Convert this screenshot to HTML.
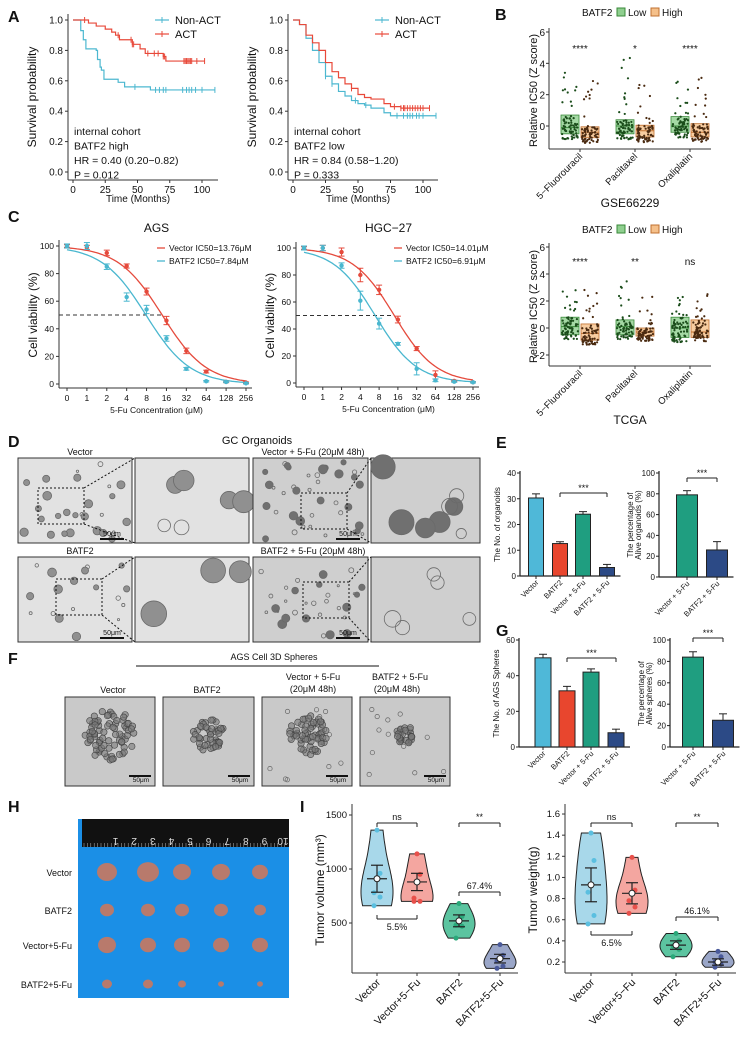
<!DOCTYPE html>
<html><head><meta charset="utf-8"><style>
html,body{margin:0;padding:0;background:#fff;width:749px;height:1041px;overflow:hidden}
svg text{font-family:"Liberation Sans",sans-serif}
</style></head><body>
<svg id="fig" width="749" height="1041" viewBox="0 0 749 1041" xmlns="http://www.w3.org/2000/svg"></svg>
<script>
// ---------- DATA ----------
// A: Kaplan-Meier
const kmLNonT=[0,6,8,10,18,19,21,22,24,35,40,60,110];
const kmLNonS=[1,.93,.87,.81,.80,.74,.69,.67,.61,.59,.56,.54,.54];
const kmLActT=[0,10,12,18,25,30,33,36,46,52,56,70,72,102];
const kmLActS=[1,1,.98,.96,.94,.92,.90,.87,.84,.81,.78,.76,.73,.73];
const kmLNonC=[48,64,67,70,72,85,88,90,92,95,100,110];
const kmLActC=[9,35,45,46,47,58,63,66,70,71,86,87,88,89,90,91,92,96,102];
const kmRNonT=[0,5,10,15,20,25,30,35,40,45,50,55,60,70,75,110];
const kmRNonS=[1,.97,.88,.80,.72,.63,.58,.53,.50,.47,.45,.44,.42,.39,.37,.37];
const kmRActT=[0,5,10,15,20,25,30,35,40,45,50,55,60,70,75,83,105];
const kmRActS=[1,.97,.90,.85,.80,.72,.66,.62,.58,.55,.51,.49,.48,.45,.43,.42,.42];
const kmRNonC=[25,30,48,56,80,85,88,90,92,95,97,100,110];
const kmRActC=[45,78,83,85,86,88,90,92,94,96,98,100,105];
const kmXTicks=[0,25,50,75,100];
const kmYTicks=[0,0.2,0.4,0.6,0.8,1.0];
// B: IC50 boxes (q1, median, q3)
const drugs=["5\u2212Fluorouracil","Paclitaxel","Oxaliplatin"];
const gseLow=[[-0.5,-0.1,0.7],[-0.5,0,0.4],[-0.4,0,0.6]];
const gseHigh=[[-0.75,-0.4,-0.05],[-0.7,-0.3,0.05],[-0.7,-0.4,0.15]];
const gseMax=[[4.0,3.2],[4.5,2.7],[3.0,3.2]];
const gseSig=["****","*","****"];
const tcgaLow=[[-0.5,0.1,0.8],[-0.5,0.1,0.6],[-0.7,0,0.8]];
const tcgaHigh=[[-0.9,-0.4,0.3],[-0.6,-0.3,0.0],[-0.7,-0.3,0.6]];
const tcgaMax=[[3.1,3.4],[3.6,2.8],[2.3,2.9]];
const tcgaSig=["****","**","ns"];
const bTicksTop=[0,2,4,6];
const bTicksBot=[-2,0,2,4,6];
// C: viability
const concLabels=["0","1","2","4","8","16","32","64","128","256"];
const agsVec=[100,99,95,85.5,67,46,24,9,1.5,1];
const agsVecErr=[1,1.5,2,1.5,2.5,3,2,1,0.5,0.5];
const agsBat=[100,100,85,63,54,33,11,2,1.5,0.5];
const agsBatErr=[1.5,2.5,2,3,3,2,1,0.5,0.5,0.5];
const hgcVec=[100,100,97,80,69,47,25.5,6,1.5,0.5];
const hgcVecErr=[1,2,3,5,3.5,2.5,1.5,3,0.5,0.5];
const hgcBat=[100,100,87,61,44,29,10.5,2,1,0.5];
const hgcBatErr=[1.5,2,2,7,4,1,4.5,1,0.5,0.5];
const ic50=[13.76,7.84,14.01,6.91];
const cYTicks=[0,20,40,60,80,100];
// E/G bars
const eLabels=["Vector","BATF2","Vector + 5-Fu","BATF2 + 5-Fu"];
const eVals=[30.3,12.6,24,3.3]; const eErr=[1.6,0.7,1,1.2];
const e2Labels=["Vector + 5-Fu","BATF2 + 5-Fu"];
const e2Vals=[79,26]; const e2Err=[4,8];
const gVals=[50,31.5,42,8]; const gErr=[2,2.5,1.8,2];
const g2Vals=[84,25]; const g2Err=[5,6];
// I violins
const vGroups=["Vector","Vector+5\u2212Fu","BATF2","BATF2+5\u2212Fu"];
const volPts=[[1360,960,780,740,660],[1140,950,730,700,700],[680,560,480,470,360],[300,200,150,100,80]];
const volMean=[910,880,520,170]; const volSE=[125,80,55,40];
const wPts=[[1.42,1.16,0.86,0.64,0.56],[1.19,0.88,0.78,0.72,0.66],[0.47,0.40,0.35,0.32,0.25],[0.30,0.25,0.20,0.18,0.15]];
const wMean=[0.93,0.85,0.36,0.20]; const wSE=[0.16,0.10,0.04,0.03];
const volTicks=[500,1000,1500];
const wTicks=[0.2,0.4,0.6,0.8,1.0,1.2,1.4,1.6];

// ---------- HELPERS ----------
const NS="http://www.w3.org/2000/svg";
const svg=document.getElementById('fig');
function mk(tag,attrs,name,parent){
  const el=document.createElementNS(NS,tag);
  for(const k in attrs) el.setAttribute(k,attrs[k]);
  
  
  (parent||svg).appendChild(el);
  return el;
}
function tx(x,y,s,size,name,opt){
  opt=opt||{};
  const a={x:x,y:y,'font-size':size,fill:opt.fill||'#111'};
  if(opt.anchor)a['text-anchor']=opt.anchor;
  if(opt.bold)a['font-weight']='bold';
  if(opt.rot!==undefined)a.transform='rotate('+opt.rot+' '+x+' '+y+')';
  const t=mk('text',a,name,opt.parent);
  t.textContent=s;return t;
}
function ln(x1,y1,x2,y2,c,w,name,dash){
  const a={x1:x1,y1:y1,x2:x2,y2:y2,stroke:c,'stroke-width':w};
  if(dash)a['stroke-dasharray']=dash;
  return mk('line',a,name);
}
function hash(n){const s=Math.sin(n*12.9898+78.233)*43758.5453;return s-Math.floor(s);}

// panel letters
[["A",8,22],["B",495,20],["C",8,222],["D",8,447],["E",496,448],["F",8,664],["G",496,636],["H",8,812],["I",300,812]].forEach(p=>{
  tx(p[1],p[2],p[0],16,'panel-label-'+p[0].toLowerCase(),{bold:true});
});

// ---------- A ----------
function km(ox,x0,x100,title,nT,nS,aT,aS,nC,aC,l1,hr,p,key){
  const y1=20,y0=172,ax=ox-5,ab=180;
  const X=t=>x0+(x100-x0)*t/100, Y=s=>y0-(y0-y1)*s;
  ln(ax,14,ax,ab,'#333',1,'km-y-axis-'+key);
  ln(ax,ab,ax+150,ab,'#333',1,'km-x-axis-'+key);
  kmYTicks.forEach(v=>{ln(ax-3,Y(v),ax,Y(v),'#333',1,'km-y-tick');tx(ax-5,Y(v)+3.5,v.toFixed(1),10,'km-y-tick-label',{anchor:'end'});});
  kmXTicks.forEach(v=>{ln(X(v),ab,X(v),ab+3,'#333',1,'km-x-tick');tx(X(v),ab+13,String(v),10,'km-x-tick-label',{anchor:'middle'});});
  tx(ax+70,ab+22,'Time (Months)',10,'km-x-axis-title',{anchor:'middle'});
  tx(ax-32,97,'Survival probability',12,'km-y-axis-title',{anchor:'middle',rot:-90});
  function curve(T,S,C,col,nm){
    let d='M'+X(T[0])+' '+Y(S[0]);
    for(let i=1;i<T.length;i++){d+=' H'+X(T[i])+' V'+Y(S[i]);}
    mk('path',{d:d,fill:'none',stroke:col,'stroke-width':1.2},nm);
    C.forEach(t=>{let s=S[0];for(let i=0;i<T.length;i++)if(T[i]<=t)s=S[i];
      ln(X(t),Y(s)-3,X(t),Y(s)+3,col,1,nm+'-censor');});
  }
  curve(nT,nS,nC,'#4db8d0','km-curve-non-act-'+key);
  curve(aT,aS,aC,'#e8493a','km-curve-act-'+key);
  const lx=ox+82;
  ln(lx,20,lx+14,20,'#4db8d0',1.2,'legend-non-act-line');ln(lx+7,17,lx+7,23,'#4db8d0',1,'legend-non-act-tick');
  tx(lx+20,24,'Non-ACT',11,'legend-non-act');
  ln(lx,34,lx+14,34,'#e8493a',1.2,'legend-act-line');ln(lx+7,31,lx+7,37,'#e8493a',1,'legend-act-tick');
  tx(lx+20,38,'ACT',11,'legend-act');
  const info=['internal cohort',l1,hr,p];
  info.forEach((s,i)=>tx(ox+1,135+i*14.5,s,10.5,'km-annotation-'+key));
}
km(73,73,202,'',kmLNonT,kmLNonS,kmLActT,kmLActS,kmLNonC,kmLActC,'BATF2 high','HR = 0.40 (0.20\u22120.82)','P = 0.012','high');
km(293,293,423,'',kmRNonT,kmRNonS,kmRActT,kmRActS,kmRNonC,kmRActC,'BATF2 low','HR = 0.84 (0.58\u22121.20)','P = 0.333','low');

// ---------- C ----------
function dose(ox,xi0,xi9,y100,y0,ttl,vec,vecE,bat,batE,icV,icB,key){
  const ax=xi0-8,ab=y0+4;
  const X=i=>xi0+(xi9-xi0)*i/9, Y=v=>y0-(y0-y100)*v/100;
  tx((xi0+xi9)/2,232,ttl,12,'dose-title-'+key,{anchor:'middle'});
  ln(ax,y100-6,ax,ab,'#333',1,'dose-y-axis');
  ln(ax,ab,xi9+6,ab,'#333',1,'dose-x-axis');
  cYTicks.forEach(v=>{ln(ax-3,Y(v),ax,Y(v),'#333',1,'dose-y-tick');tx(ax-5,Y(v)+3,String(v),8.5,'dose-y-tick-label',{anchor:'end'});});
  concLabels.forEach((s,i)=>{ln(X(i),ab,X(i),ab+3,'#333',1,'dose-x-tick');tx(X(i),ab+13,s,8.5,'dose-x-tick-label',{anchor:'middle'});});
  tx((xi0+xi9)/2,ab+25,'5-Fu Concentration (\u03bcM)',8.5,'dose-x-axis-title',{anchor:'middle'});
  tx(ax-22,(y0+y100)/2,'Cell viability (%)',12,'dose-y-axis-title',{anchor:'middle',rot:-90});
  const xV=X(1+Math.log2(icV));
  ln(ax,Y(50),xV,Y(50),'#333',1,'ic50-dashed-line','4,3');
  function fit(ic,col,nm){let d='';for(let k=0;k<=90;k++){const i=k/10;const v=100/(1+Math.pow(2,1.3*((i-1)-Math.log2(ic))));d+=(k?' L':'M')+X(i).toFixed(1)+' '+Y(v).toFixed(1);}
    mk('path',{d:d,fill:'none',stroke:col,'stroke-width':1.3},nm);}
  fit(icV,'#e54a3c','fit-vector-'+key);fit(icB,'#4ab7cf','fit-batf2-'+key);
  function pts(arr,err,col,nm){arr.forEach((v,i)=>{const x=X(i);
    ln(x,Y(v+err[i]),x,Y(v-err[i]),col,1,nm+'-errbar');
    ln(x-3,Y(v+err[i]),x+3,Y(v+err[i]),col,1,nm+'-errcap');ln(x-3,Y(v-err[i]),x+3,Y(v-err[i]),col,1,nm+'-errcap');
    mk('circle',{cx:x,cy:Y(v),r:2.2,fill:col},nm+'-point');});}
  pts(vec,vecE,'#e54a3c','vector-'+key);pts(bat,batE,'#4ab7cf','batf2-'+key);
  const lx=ox+90;
  ln(lx,248,lx+8,248,'#e54a3c',1.3,'legend-vector-line');tx(lx+12,251,'Vector  IC50='+icV.toFixed(2)+'\u03bcM',8.5,'legend-vector');
  ln(lx,261,lx+8,261,'#4ab7cf',1.3,'legend-batf2-line');tx(lx+12,264,'BATF2 IC50='+icB.toFixed(2)+'\u03bcM',8.5,'legend-batf2');
}
dose(67,67,246,246,384,'AGS',agsVec,agsVecErr,agsBat,agsBatErr,ic50[0],ic50[1],'ags');
dose(304,304,473,248,383,'HGC\u221227',hgcVec,hgcVecErr,hgcBat,hgcBatErr,ic50[2],ic50[3],'hgc');

// ---------- B ----------
function boxes(y6,y0,ab,legY,low,high,mx,sig,ticks,name,key){
  const per=(y0-y6)/6, Y=v=>y0-v*per, ax=549, gx=[580,635,690];
  tx(582,legY+4,'BATF2',10,'legend-title-'+key);
  mk('rect',{x:617,y:legY-4,width:8,height:8,fill:'#8fcf8f',stroke:'#3a8a3a'},'legend-low-key');
  tx(628,legY+4,'Low',10,'legend-low');
  mk('rect',{x:651,y:legY-4,width:8,height:8,fill:'#f5c08a',stroke:'#c07030'},'legend-high-key');
  tx(662,legY+4,'High',10,'legend-high');
  ln(ax,Y(6)-4,ax,ab,'#333',1,'b-y-axis');ln(ax,ab,711,ab,'#333',1,'b-x-axis');
  ticks.forEach(v=>{ln(ax-3,Y(v),ax,Y(v),'#333',1,'b-y-tick');tx(ax-4,Y(v)+4,String(v).replace('-','\u2212'),10,'b-y-tick-label',{anchor:'end'});});
  tx(ax-12,(Y(6)+ab)/2,'Relative IC50 (Z score)',11,'b-y-axis-title',{anchor:'middle',rot:-90});
  drugs.forEach((d,g)=>{
    ln(gx[g],ab,gx[g],ab+3,'#333',1,'b-x-tick');
    tx(gx[g]+3,ab+8,d,9.5,'b-x-tick-label',{anchor:'end',rot:-45});
    [[low[g],-10,'#8fcf8f','#3a8a3a','#1b4d1b',mx[g][0]],[high[g],10,'#f5c08a','#c07030','#4a2a10',mx[g][1]]].forEach((b,k)=>{
      const cx=gx[g]+b[1];
      mk('rect',{x:cx-9,y:Y(b[0][2]),width:18,height:Y(b[0][0])-Y(b[0][2]),fill:b[2],'fill-opacity':0.8,stroke:b[3],'stroke-width':0.8},'box-'+key+'-'+g+'-'+k);
      ln(cx-9,Y(b[0][1]),cx+9,Y(b[0][1]),b[3],1,'box-median');
      const lo=Y(b[0][0]-0.35),hi=Y(b[5]);
      for(let n=0;n<70;n++){const h1=hash(n+g*100+k*1000+(key=='t'?5000:0)),h2=hash(n*3.1+g*7+k*11+(key=='t'?77:0));
        const yy=n<10?hi+(Y(b[0][2])-hi)*h1:Y(b[0][2])+(lo-Y(b[0][2]))*Math.pow(h1,0.8);
        mk('circle',{cx:cx-8+16*h2,cy:yy,r:1.1,fill:b[4]},'jitter-point');}
    });
    tx(gx[g],Y(4.9)+3,sig[g],10,'b-significance',{anchor:'middle'});
  });
  tx(630,ab+58,name,12,'b-dataset-title',{anchor:'middle'});
}
boxes(32,126,149,12,gseLow,gseHigh,gseMax,gseSig,bTicksTop,'GSE66229','g');
boxes(247,328,366,229,tcgaLow,tcgaHigh,tcgaMax,tcgaSig,bTicksBot,'TCGA','t');

// ---------- D & F images ----------
function micro(x,y,w,h,n,seed,nm,dark,big){
  mk('rect',{x:x,y:y,width:w,height:h,fill:dark?'#cfcfcf':'#e2e2e2',stroke:'#333','stroke-width':1},nm);
  for(let i=0;i<n;i++){const a=hash(seed+i),b=hash(seed+i*2.7+1),c=hash(seed+i*5.3+2);
    const r=big?(4+c*10):(1+c*3.5);
    mk('circle',{cx:x+4+a*(w-8),cy:y+4+b*(h-8),r:r,fill:c>0.45?(dark?'#707070':'#909090'):'none',stroke:'#6a6a6a','stroke-width':0.8},nm+'-organoid');}
}
tx(257,444,'GC Organoids',11,'d-title',{anchor:'middle'});
tx(80,455,'Vector',9,'d-label-vector',{anchor:'middle'});
tx(313,455,'Vector + 5-Fu (20\u03bcM 48h)',9,'d-label-vector-5fu',{anchor:'middle'});
tx(80,554,'BATF2',9,'d-label-batf2',{anchor:'middle'});
tx(313,554,'BATF2 + 5-Fu (20\u03bcM 48h)',9,'d-label-batf2-5fu',{anchor:'middle'});
const cols=[[18,114],[135,114],[253,115],[371,109]];
const orgCounts=[[28,6,38,8],[18,3,32,5]];
[458,557].forEach((yy,r)=>cols.forEach((c,k)=>{micro(c[0],yy,c[1],85,orgCounts[r][k],r*50+k*13,'organoid-image',k>=2,k%2==1);}));
[[458,0,20,30],[458,2,48,35],[557,0,38,22],[557,2,50,25]].forEach((p,i)=>{const x=cols[p[1]][0]+p[2],y=p[0]+p[3];
  mk('rect',{x:x,y:y,width:46,height:36,fill:'none',stroke:'#111','stroke-dasharray':'2,2'},'zoom-box');
  ln(x+46,y,cols[p[1]+1][0],p[0],'#111',1,'zoom-line','2,2');
  ln(x+46,y+36,cols[p[1]+1][0],p[0]+85,'#111',1,'zoom-line','2,2');
  tx(cols[p[1]][0]+cols[p[1]][1]-20,p[0]+78,'50\u03bcm',7,'scale-label',{anchor:'middle'});
  ln(cols[p[1]][0]+cols[p[1]][1]-32,p[0]+81,cols[p[1]][0]+cols[p[1]][1]-8,p[0]+81,'#111',2,'scale-bar');});
tx(274,660,'AGS Cell 3D Spheres',9,'f-title',{anchor:'middle'});
ln(136,666,379,666,'#111',1,'f-title-line');
tx(113,693,'Vector',9,'f-label-vector',{anchor:'middle'});
tx(207,693,'BATF2',9,'f-label-batf2',{anchor:'middle'});
tx(313,680,'Vector + 5-Fu',9,'f-label-vector-5fu',{anchor:'middle'});
tx(313,692,'(20\u03bcM 48h)',9,'f-label-vector-5fu-dose',{anchor:'middle'});
tx(400,680,'BATF2 + 5-Fu',9,'f-label-batf2-5fu',{anchor:'middle'});
tx(397,692,'(20\u03bcM 48h)',9,'f-label-batf2-5fu-dose',{anchor:'middle'});
[[65,90,26],[163,91,16],[262,90,20],[360,90,9]].forEach((s,i)=>{
  mk('rect',{x:s[0],y:697,width:s[1],height:89,fill:'#c9c9c9',stroke:'#333'},'sphere-image');
  const cx=s[0]+s[1]/2;
  for(let n=0;n<Math.round(s[2]*3);n++){const a=hash(n+i*300)*6.283,d=Math.sqrt(hash(n*1.7+i*31))*s[2];
    mk('circle',{cx:cx+Math.cos(a)*d,cy:735+Math.sin(a)*d,r:3.2,fill:'#7a7a7a','fill-opacity':0.6,stroke:'#444','stroke-width':0.6},'sphere-cell');}
  if(i>=2){for(let n=0;n<14;n++){mk('circle',{cx:s[0]+6+hash(n+i*90)*(s[1]-12),cy:702+hash(n*2.3+i*9)*78,r:2.2,fill:'none',stroke:'#666','stroke-width':0.7},'free-cell');}}
  tx(s[0]+s[1]-14,782,'50\u03bcm',6.5,'scale-label',{anchor:'middle'});
  ln(s[0]+s[1]-26,776,s[0]+s[1]-4,776,'#111',2,'scale-bar');});

// ---------- E & G ----------
const barCols=['#4fb8d8','#e8462e','#1f9e80','#2c4a86'];
function bars(ax,yTop,yb,max,ticks,xs,vals,errs,labels,colors,bw,ylab,br,key){
  const Y=v=>yb-(yb-yTop)*v/max;
  ln(ax,yTop-2,ax,yb,'#222',1.2,'bar-y-axis');ln(ax,yb,xs[xs.length-1]+bw/2+6,yb,'#222',1.2,'bar-x-axis');
  ticks.forEach(v=>{ln(ax-3,Y(v),ax,Y(v),'#222',1,'bar-y-tick');tx(ax-4,Y(v)+3,String(v),8,'bar-y-tick-label',{anchor:'end'});});
  vals.forEach((v,i)=>{
    ln(xs[i],Y(v),xs[i],Y(v+errs[i]),'#222',1,'bar-errbar');ln(xs[i]-4,Y(v+errs[i]),xs[i]+4,Y(v+errs[i]),'#222',1,'bar-errcap');
    mk('rect',{x:xs[i]-bw/2,y:Y(v),width:bw,height:yb-Y(v),fill:colors[i],stroke:'#222','stroke-width':1},'bar-'+key+'-'+i);
    ln(xs[i],yb,xs[i],yb+3,'#222',1,'bar-x-tick');
    tx(xs[i]+3,yb+7,labels[i],7.5,'bar-x-tick-label',{anchor:'end',rot:-45});
  });
  ylab.forEach((s,i)=>tx(ax-(ylab.length==2?26-i*8:20),(yTop+yb)/2,s,8,'bar-y-axis-title',{anchor:'middle',rot:-90}));
  const by=br[2];ln(br[0],by,br[1],by,'#222',1,'sig-bracket');ln(br[0],by,br[0],by+4,'#222',1,'sig-bracket');ln(br[1],by,br[1],by+4,'#222',1,'sig-bracket');
  tx((br[0]+br[1])/2,by-2,'***',9,'sig-stars',{anchor:'middle'});
}
bars(520,473,576,40,[0,10,20,30,40],[536,560,583,607],eVals,eErr,eLabels,barCols,15,['The No. of organoids'],[560,607,493],'e1');
bars(659,473,577,100,[0,20,40,60,80,100],[687,717],e2Vals,e2Err,e2Labels,[barCols[2],barCols[3]],21,['The percentage of','Alive  organoids (%)'],[687,717,478],'e2');
bars(519,640,747,60,[0,20,40,60],[543,567,591,616],gVals,gErr,eLabels,barCols,16,['The No. of AGS Spheres'],[567,616,658],'g1');
bars(670,640,747,100,[0,20,40,60,80,100],[693,723],g2Vals,g2Err,e2Labels,[barCols[2],barCols[3]],21,['The percentage of','Alive  spheres  (%)'],[693,723,638],'g2');

// ---------- H photo ----------
mk('rect',{x:78,y:819,width:211,height:179,fill:'#1b8fe6'},'tumor-photo');
mk('rect',{x:82,y:819,width:207,height:28,fill:'#111'},'ruler');
for(let i=1;i<=10;i++){tx(97+i*18.6,838,String(i),10,'ruler-number',{anchor:'middle',fill:'#ddd',rot:180});}
for(let i=0;i<60;i++){ln(84+i*3.4,843,84+i*3.4,847,'#bbb',0.5,'ruler-tick');}
const hRows=[[872,'Vector',[10,11,9,9,8]],[910,'BATF2',[7,7,7,7,6]],[945,'Vector+5-Fu',[9,8,8,8,8]],[984,'BATF2+5-Fu',[5,5,4,3,3]]];
hRows.forEach(r=>{tx(72,r[0]+4,r[1],9,'tumor-row-label',{anchor:'end'});
  [107,148,182,221,260].forEach((x,k)=>mk('ellipse',{cx:x,cy:r[0],rx:r[2][k],ry:r[2][k]*0.9,fill:'#b87a6c'},'tumor'));});

// ---------- I violins ----------
function violin(ax,gx,scale,ticks,pts,mean,se,ylab,fmt,pctTxt,pctY,key){
  const yb=973;
  ln(ax,804,ax,yb,'#333',1,'violin-y-axis');ln(ax,yb,gx[3]+18,yb,'#333',1,'violin-x-axis');
  ticks.forEach(v=>{ln(ax-3,scale(v),ax,scale(v),'#333',1,'violin-y-tick');tx(ax-5,scale(v)+3,fmt(v),9.5,'violin-y-tick-label',{anchor:'end'});});
  tx(ax-28,890,ylab,12,'violin-y-axis-title',{anchor:'middle',rot:-90});
  const fills=['#a8d8ea','#f4a6a0','#5cc4a0','#9aa6c8'],pc=['#5bbfe0','#e8504a','#2aa87a','#4a5a9a'];
  pts.forEach((p,g)=>{
    const mn=Math.min(...p),mx=Math.max(...p),bw=(mx-mn)*0.35;
    const dens=v=>p.reduce((s,q)=>s+Math.exp(-0.5*Math.pow((v-q)/bw,2)),0);
    let L=[],R=[],dm=0;const N=30;const vs=[];for(let k=0;k<=N;k++){vs.push(mn+(mx-mn)*k/N);dm=Math.max(dm,dens(mn+(mx-mn)*k/N));}
    vs.forEach(v=>{const w=16*dens(v)/dm;L.push((gx[g]-w).toFixed(1)+','+scale(v).toFixed(1));R.unshift((gx[g]+w).toFixed(1)+','+scale(v).toFixed(1));});
    mk('polygon',{points:L.concat(R).join(' '),fill:fills[g],stroke:'#222','stroke-width':1},'violin-'+key+'-'+g);
    p.forEach((v,i)=>mk('circle',{cx:gx[g]+(i%2?3:-3)*(i>0?1:0),cy:scale(v),r:2.5,fill:pc[g]},'violin-point'));
    ln(gx[g],scale(mean[g]+se[g]),gx[g],scale(mean[g]-se[g]),'#222',1.2,'mean-se-bar');
    ln(gx[g]-6,scale(mean[g]+se[g]),gx[g]+6,scale(mean[g]+se[g]),'#222',1.2,'se-cap');
    ln(gx[g]-6,scale(mean[g]-se[g]),gx[g]+6,scale(mean[g]-se[g]),'#222',1.2,'se-cap');
    ln(gx[g]-10,scale(mean[g]),gx[g]+10,scale(mean[g]),'#222',1.2,'mean-line');
    mk('circle',{cx:gx[g],cy:scale(mean[g]),r:3,fill:'#fff',stroke:'#222'},'mean-point');
    ln(gx[g],yb,gx[g],yb+3,'#333',1,'violin-x-tick');
    tx(gx[g]+4,yb+10,vGroups[g],10.5,'violin-x-tick-label',{anchor:'end',rot:-45});
  });
  function br(a,b,y,s,down){const d=down?-4:4;ln(gx[a],y,gx[b],y,'#222',1,'bracket');ln(gx[a],y,gx[a],y+d,'#222',1,'bracket');ln(gx[b],y,gx[b],y+d,'#222',1,'bracket');
    tx((gx[a]+gx[b])/2,down?y+11:y-3,s,9,'bracket-label',{anchor:'middle'});}
  br(0,1,823,'ns');br(2,3,823,'**');br(2,3,pctY[0],pctTxt[0]);br(0,1,pctY[1],pctTxt[1],true);
}
const volScale=v=>869-(v-1000)*0.108;
const wScale=v=>962-(v-0.2)*105.7;
violin(352,[377,417,459,500],volScale,volTicks,volPts,volMean,volSE,'Tumor volume (mm\u00b3)',v=>String(v),['67.4%','5.5%'],[892,919],'vol');
violin(565,[591,632,676,718],wScale,wTicks,wPts,wMean,wSE,'Tumor weight(g)',v=>v.toFixed(1),['46.1%','6.5%'],[917,935],'w');
</script>
</body></html>
